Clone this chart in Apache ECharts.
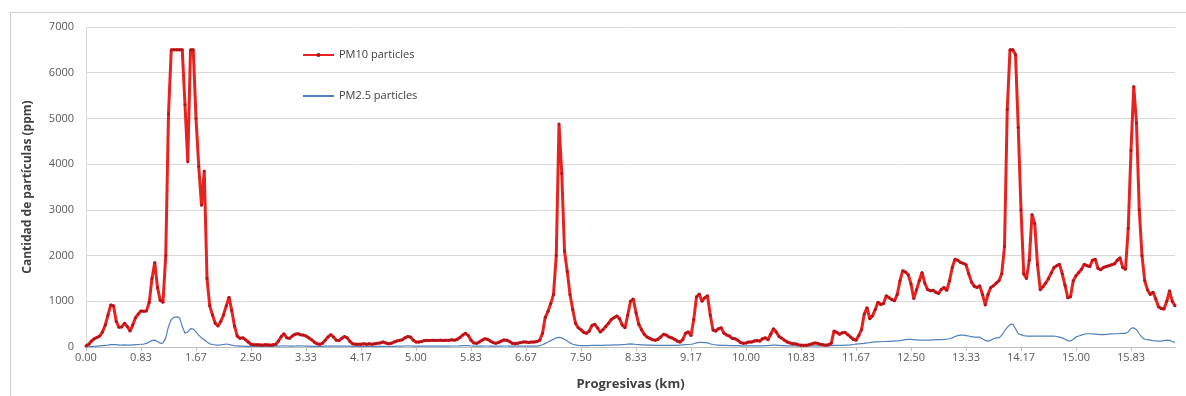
<!DOCTYPE html>
<html>
<head>
<meta charset="utf-8">
<script src="https://cdn.jsdelivr.net/npm/echarts@6/dist/echarts.min.js"></script>
<style>
  html, body { margin: 0; padding: 0; background: #ffffff; overflow: hidden; }
  #frame { position: absolute; left: 10px; top: 12px; width: 1200px; height: 400px;
           border-left: 1px solid #cfcfcf; border-top: 1px solid #cfcfcf; }
  #chart { position: absolute; left: 0; top: 0; width: 1186px; height: 396px; }
</style>
</head>
<body>
<div id="frame"></div>
<div id="chart"></div>
<script>
// one sample every 1/24 km, a label every 20 samples (0.83 km)
const stepKm = 1 / 24;
const labelEvery = 20;

// PM10 particles (ppm), one row per 0.83 km
const pm10 = [
  20, 60, 130, 180, 210, 240, 330, 480, 700, 920, 900, 560, 430, 440, 520, 450, 350, 480, 640, 720,
  790, 780, 790, 980, 1500, 1850, 1300, 1020, 980, 2000, 5100, 6500, 6500, 6500, 6500, 6500, 5300, 4050, 6500, 6500,
  5000, 3950, 3100, 3850, 1500, 900, 700, 520, 460, 560, 700, 900, 1090, 800, 460, 240, 190, 200, 160, 110,
  60, 50, 50, 50, 40, 50, 50, 40, 50, 60, 130, 230, 290, 200, 190, 240, 280, 290, 270, 260,
  240, 200, 160, 110, 70, 60, 80, 150, 220, 270, 220, 150, 140, 190, 230, 200, 120, 70, 60, 60,
  60, 70, 60, 70, 60, 70, 80, 90, 110, 90, 70, 80, 110, 130, 145, 160, 200, 230, 220, 150,
  110, 110, 120, 140, 145, 140, 150, 140, 145, 150, 140, 150, 145, 160, 150, 170, 210, 260, 300, 250,
  150, 90, 80, 110, 150, 180, 170, 130, 100, 80, 100, 130, 155, 150, 120, 80, 70, 80, 100, 110,
  110, 100, 110, 110, 120, 150, 300, 650, 780, 950, 1150, 2000, 4880, 3800, 2100, 1650, 1150, 820, 520, 420,
  380, 320, 300, 350, 470, 500, 420, 330, 380, 450, 520, 600, 640, 680, 620, 480, 420, 700, 1000, 1050,
  750, 500, 380, 280, 220, 190, 160, 150, 170, 220, 280, 260, 220, 200, 170, 130, 110, 160, 300, 330,
  250, 600, 1100, 1160, 1000, 1080, 1120, 700, 370, 350, 400, 420, 300, 260, 240, 190, 180, 150, 100, 80,
  90, 110, 110, 130, 140, 130, 180, 200, 160, 280, 400, 330, 230, 190, 150, 110, 90, 70, 70, 50,
  40, 40, 40, 50, 70, 90, 80, 60, 50, 40, 50, 80, 350, 320, 280, 310, 320, 270, 220, 170,
  150, 250, 380, 720, 860, 620, 680, 820, 980, 930, 950, 1120, 1080, 1040, 1010, 1150, 1450, 1670, 1640, 1580,
  1380, 1060, 1250, 1450, 1630, 1400, 1260, 1230, 1240, 1200, 1170, 1260, 1300, 1240, 1450, 1740, 1920, 1900, 1850, 1830,
  1800, 1600, 1420, 1330, 1300, 1340, 1150, 920, 1150, 1300, 1340, 1400, 1450, 1600, 2200, 5200, 6500, 6500, 6400, 4800,
  3000, 1600, 1500, 1900, 2900, 2700, 1800, 1250, 1320, 1400, 1500, 1620, 1740, 1780, 1810, 1600, 1350, 1080, 1100, 1450,
  1560, 1630, 1700, 1810, 1780, 1760, 1900, 1920, 1720, 1690, 1740, 1760, 1780, 1800, 1820, 1900, 1950, 1740, 1700, 2600,
  4300, 5700, 4900, 3000, 2000, 1450, 1250, 1150, 1200, 1050, 880, 840, 830, 1000, 1230, 1000, 900
];

// PM2.5 particles (ppm)
const pm25 = [
  0, 5, 10, 15, 20, 25, 30, 35, 40, 50, 55, 50, 40, 40, 45, 40, 40, 45, 50, 55,
  60, 65, 80, 110, 140, 150, 120, 80, 90, 200, 450, 600, 650, 660, 640, 450, 300, 330, 400, 390,
  330, 260, 200, 160, 110, 70, 55, 45, 40, 45, 55, 65, 55, 40, 30, 25, 20, 20, 15, 15,
  15, 15, 12, 12, 12, 12, 15, 15, 15, 18, 20, 22, 25, 22, 20, 20, 22, 25, 25, 22,
  20, 18, 15, 12, 12, 12, 15, 18, 20, 22, 20, 18, 18, 20, 22, 20, 18, 15, 12, 12,
  12, 12, 12, 12, 12, 12, 12, 15, 15, 15, 15, 15, 15, 18, 18, 20, 22, 25, 22, 20,
  18, 18, 18, 18, 20, 20, 20, 20, 20, 20, 20, 20, 20, 22, 22, 22, 25, 28, 30, 28,
  22, 18, 18, 18, 20, 22, 22, 20, 18, 18, 18, 20, 22, 22, 20, 18, 18, 18, 18, 18,
  18, 18, 18, 18, 20, 30, 50, 80, 110, 140, 170, 200, 210, 200, 170, 130, 90, 60, 45, 35,
  30, 30, 30, 30, 35, 35, 35, 35, 35, 40, 40, 40, 45, 45, 45, 50, 55, 65, 70, 65,
  55, 50, 45, 45, 40, 40, 40, 35, 35, 35, 35, 35, 35, 35, 35, 35, 40, 45, 50, 55,
  60, 70, 90, 100, 100, 95, 90, 70, 55, 45, 40, 35, 35, 35, 30, 30, 30, 30, 25, 25,
  25, 25, 25, 25, 25, 25, 25, 30, 30, 35, 40, 40, 35, 30, 30, 25, 25, 25, 25, 25,
  25, 25, 25, 25, 25, 25, 25, 25, 25, 25, 25, 30, 35, 35, 35, 35, 40, 40, 45, 55,
  65, 70, 75, 80, 90, 95, 105, 110, 110, 115, 120, 120, 125, 130, 130, 135, 140, 150, 160, 165,
  165, 160, 155, 150, 150, 150, 150, 150, 155, 160, 160, 160, 165, 170, 180, 200, 230, 250, 260, 260,
  250, 240, 225, 215, 215, 215, 180, 140, 130, 150, 180, 200, 200, 260, 350, 430, 490, 500, 400, 290,
  270, 250, 240, 240, 240, 240, 240, 240, 240, 240, 240, 240, 240, 230, 215, 200, 170, 140, 130, 170,
  220, 240, 260, 280, 290, 290, 285, 280, 275, 270, 270, 275, 280, 285, 290, 290, 295, 300, 300, 330,
  410, 420, 380, 290, 210, 170, 160, 150, 140, 135, 130, 130, 140, 150, 145, 120, 100
];

// x categories: distance along the route (km)
const distances = pm10.map((_, i) => (i * stepKm).toFixed(2));

const font = "'Open Sans', sans-serif";
const chart = echarts.init(document.getElementById("chart"), null, { renderer: "canvas" });

const option = {
  animation: false,
  textStyle: { fontFamily: font },
  grid: { left: 86, right: 11, top: 27, bottom: 49 },
  legend: {
    orient: "vertical",
    left: 297,
    top: 43,
    itemWidth: 31,
    itemHeight: 5,
    itemGap: 27,
    textStyle: { color: "#404040", fontSize: 11, lineHeight: 14, fontFamily: font },
    data: [
      { name: "PM10 particles", itemStyle: { color: "#b3121a" } },
      { name: "PM2.5 particles", itemStyle: { color: "rgba(0,0,0,0)" } },
    ],
  },
  xAxis: {
    type: "category",
    data: distances,
    boundaryGap: false,
    name: "Progresivas (km)",
    nameLocation: "middle",
    nameGap: 31,
    nameTextStyle: { color: "#404040", fontSize: 13, fontWeight: "bold", fontFamily: font },
    axisLine: { lineStyle: { color: "#bfbfbf", width: 1 } },
    axisTick: { interval: labelEvery - 1, length: 4, lineStyle: { color: "#bfbfbf" } },
    axisLabel: { interval: labelEvery - 1, color: "#595959", fontSize: 11, margin: 5 },
    splitLine: { show: false },
  },
  yAxis: {
    type: "value",
    min: 0,
    max: 7000,
    interval: 1000,
    name: "Cantidad de partículas (ppm)",
    nameLocation: "middle",
    nameGap: 52,
    nameRotate: 90,
    nameTextStyle: { color: "#404040", fontSize: 12, fontWeight: "bold", fontFamily: font },
    axisLine: { show: true, lineStyle: { color: "#d9d9d9" } },
    axisTick: { show: false },
    axisLabel: { color: "#595959", fontSize: 11, margin: 12, formatter: (v) => String(v) },
    splitLine: { lineStyle: { color: "#d9d9d9", width: 1 } },
  },
  series: [
    {
      name: "PM2.5 particles",
      type: "line",
      data: pm25,
      symbol: "none",
      z: 2,
      lineStyle: { color: "#4f81bd", width: 1.2 },
      itemStyle: { color: "#4f81bd" },
    },
    {
      name: "PM10 particles",
      type: "line",
      data: pm10,
      symbol: "circle",
      symbolSize: 3,
      showAllSymbol: true,
      z: 3,
      lineStyle: { color: "#e8221f", width: 3 },
      itemStyle: { color: "#b3121a", borderWidth: 0 },
    },
  ],
};

chart.setOption(option);
</script>
</body>
</html>
